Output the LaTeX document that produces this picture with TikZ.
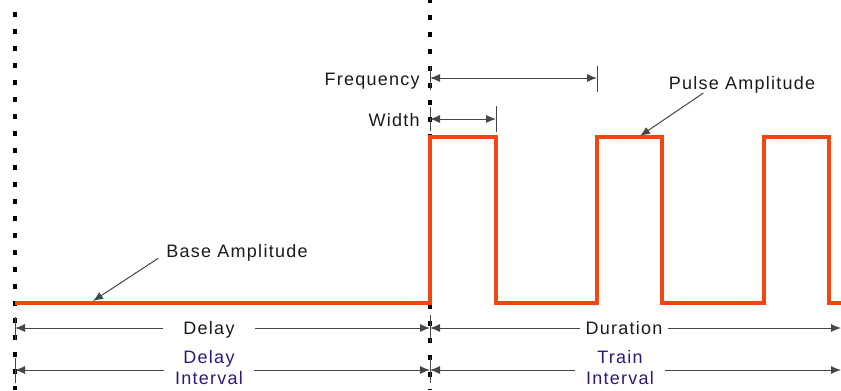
\documentclass[tikz,border=0pt]{standalone}
\usepackage{fontspec}
\setmainfont{Liberation Sans}[LetterSpace=7]
\usetikzlibrary{arrows.meta}
\definecolor{pulsered}{RGB}{245,70,15}
\definecolor{intervalblue}{RGB}{45,25,125}
\definecolor{dimgray}{RGB}{70,70,70}
\definecolor{labelblack}{RGB}{30,25,25}

\begin{document}
\begin{tikzpicture}[x=0.75pt, y=-0.75pt,
  lbl/.style={font=\fontsize{13.5pt}{18pt}\selectfont, text=labelblack, inner sep=0pt},
  ivl/.style={font=\fontsize{13.5pt}{16pt}\selectfont, text=intervalblue, align=center, inner ysep=0pt, inner xsep=8pt},
  dim/.style={draw=dimgray, line width=0.75pt, -{Latex[length=7.5pt,width=6pt]}},
  dimboth/.style={dim, {Latex[length=7.5pt,width=6pt]}-{Latex[length=7.5pt,width=6pt]}},
  tick/.style={draw=dimgray, line width=0.6pt},
  marker/.style={line width=2.6pt, dash pattern=on 3.75pt off 9pt}]
  \useasboundingbox (0,0) rectangle (841,390);

  % markers
  \draw[marker] (15,12) -- (15,390);
  \draw[marker] (430,-2) -- (430,390);

  % pulse train
  \draw[pulsered, line width=2.3pt, line join=miter]
    (15,303) -- (430,303) -- (430,137) -- (496,137) -- (496,303)
    -- (597,303) -- (597,137) -- (662,137) -- (662,303)
    -- (764,303) -- (764,137) -- (829,137) -- (829,303) -- (841,303);

  \coordinate (f0) at (430,78);
  \coordinate (f1) at (597,78);
  \coordinate (w0) at (430,119);
  \coordinate (w1) at (496,119);
  \coordinate (d0) at (15,328);
  \coordinate (d1) at (430,328);
  \coordinate (d2) at (841,328);
  \coordinate (i0) at (15,370);
  \coordinate (i1) at (430,370);
  \coordinate (i2) at (841,370);
  \coordinate (pa) at (640,136);
  \coordinate (ba) at (93,301);

  % ticks
  \draw[tick] (430,66) -- (430,90);
  \draw[tick] (597,66) -- (597,92);
  \draw[tick] (430,107) -- (430,131);
  \draw[tick] (496,106) -- (496,132);
  \draw[tick] (15,317) -- (15,340);
  \draw[tick] (430,315) -- (430,342);
  \draw[tick] (15,358) -- (15,383);
  \draw[tick] (430,357) -- (430,383);

  \draw[dimboth] (f0) -- (f1);
  \draw[dimboth] (w0) -- (w1);

  \node[lbl, anchor=base east] (freq) at (420,85) {Frequency};
  \node[lbl, anchor=base east] (width) at (420,126) {Width};
  \node[lbl, anchor=base] (pamp) at (742,89) {Pulse Amplitude};
  \node[lbl, anchor=base] (bamp) at (237,257) {Base Amplitude};

  \draw[dim] ([xshift=-29pt]pamp.south) -- (pa);
  \draw[dim] ([xshift=-6pt,yshift=2pt]bamp.south west) -- (ba);

  \node[lbl, anchor=base, inner xsep=15pt] (delay) at (209,334) {Delay};
  \node[lbl, anchor=base, inner xsep=4pt] (dur) at (624,334) {Duration};
  \draw[dim] (delay.west |- d0) -- (d0);
  \draw[dim] (delay.east |- d1) -- (d1);
  \draw[dim] (dur.west |- d1) -- (d1);
  \draw[dim] (dur.east |- d2) -- (d2);

  \node[ivl, anchor=north] (delayint) at (209,350) {Delay\\Interval};
  \node[ivl, anchor=north] (trainint) at (620,350) {Train\\Interval};
  \draw[dim] (delayint.west |- i0) -- (i0);
  \draw[dim] (delayint.east |- i1) -- (i1);
  \draw[dim] (trainint.west |- i1) -- (i1);
  \draw[dim] (trainint.east |- i2) -- (i2);
\end{tikzpicture}
\end{document}
